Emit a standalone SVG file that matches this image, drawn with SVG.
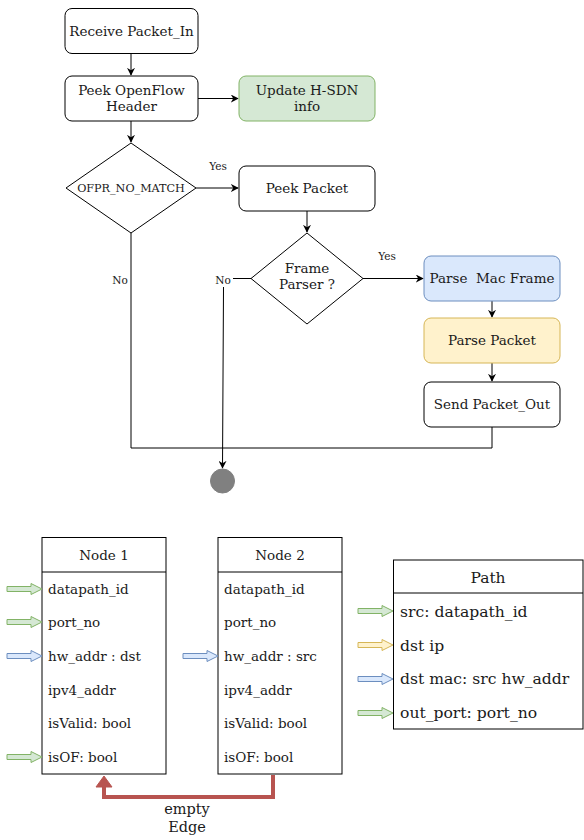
<svg xmlns="http://www.w3.org/2000/svg" width="584" height="840" viewBox="0 0 584 840">
<style>
text{font-family:"DejaVu Serif",serif;fill:#1a1a1a}
.box{fill:#fff;stroke:#000;stroke-width:1}
.t{font-size:13.5px;text-anchor:middle}
.lbl{font-size:10.5px;text-anchor:middle}
.edge{fill:none;stroke:#000;stroke-width:1}
.row{font-size:13.5px}
.prow{font-size:15.6px}
</style>
<defs>
<marker id="ah" viewBox="0 0 10 10" refX="9" refY="5" markerWidth="8" markerHeight="8" markerUnits="userSpaceOnUse" orient="auto">
<path d="M0,0 L10,5 L0,10 L3,5 Z" fill="#000"/>
</marker>
<path id="barrow" d="M-35,-2.5 H-11 V-5.5 L0,0 L-11,5.5 V2.5 H-35 Z"/>
</defs>

<g id="connectors">
<line class="edge" x1="131" y1="53" x2="131" y2="75" marker-end="url(#ah)"/>
<line class="edge" x1="198" y1="98.5" x2="238" y2="98.5" marker-end="url(#ah)"/>
<line class="edge" x1="131" y1="121" x2="131" y2="142" marker-end="url(#ah)"/>
<line class="edge" x1="196" y1="188" x2="238" y2="188" marker-end="url(#ah)"/>
<line class="edge" x1="307" y1="211" x2="307" y2="232" marker-end="url(#ah)"/>
<line class="edge" x1="363" y1="278.5" x2="423" y2="278.5" marker-end="url(#ah)"/>
<line class="edge" x1="492" y1="301" x2="492" y2="317" marker-end="url(#ah)"/>
<line class="edge" x1="492" y1="363" x2="492" y2="381" marker-end="url(#ah)"/>
<polyline class="edge" points="131,233 131,448 492,448 492,427"/>
<line class="edge" x1="251" y1="278.5" x2="233" y2="278.5"/>
<line class="edge" x1="223.5" y1="287" x2="222.5" y2="468" marker-end="url(#ah)"/>
<text class="lbl" x="218" y="170">Yes</text>
<text class="lbl" x="387" y="260">Yes</text>
<text class="lbl" x="120" y="284">No</text>
<text class="lbl" x="223" y="284">No</text>
<polyline points="273,775 273,797 104,797 104,785" fill="none" stroke="#b85450" stroke-width="4"/>
<path d="M96,787 L104,776 L112,787 Z" fill="#b85450" stroke="#b85450" stroke-width="1"/>
<text x="187" y="814" style="font-size:14.5px;text-anchor:middle">empty</text>
<text x="187" y="832" style="font-size:14.5px;text-anchor:middle">Edge</text>
</g>

<g id="receive">
<rect class="box" x="65" y="8.5" width="133" height="45" rx="7"/>
<text class="t" x="131.5" y="35.5">Receive Packet_In</text>
</g>
<g id="peek-header">
<rect class="box" x="65" y="76" width="133" height="45" rx="7"/>
<text class="t" x="131.5" y="95">Peek OpenFlow</text>
<text class="t" x="131.5" y="111">Header</text>
</g>
<g id="update">
<rect x="239" y="76" width="136" height="45" rx="7" fill="#d5e8d4" stroke="#82b366"/>
<text class="t" x="307" y="95">Update H-SDN</text>
<text class="t" x="307" y="111">info</text>
</g>
<g id="nomatch">
<path d="M131,143 L196,188 L131,233 L66,188 Z" fill="#fff" stroke="#000"/>
<text x="131" y="192" style="font-size:11.2px;text-anchor:middle">OFPR_NO_MATCH</text>
</g>
<g id="peek-packet">
<rect class="box" x="239" y="166" width="136" height="45" rx="7"/>
<text class="t" x="307" y="193">Peek Packet</text>
</g>
<g id="frame-parser">
<path d="M307,233 L363,278.5 L307,324 L251,278.5 Z" fill="#fff" stroke="#000"/>
<text class="t" x="307" y="273">Frame</text>
<text class="t" x="307" y="289">Parser ?</text>
</g>
<g id="parse-mac">
<rect x="424" y="256" width="136" height="45" rx="7" fill="#dae8fc" stroke="#6c8ebf"/>
<text class="t" x="492" y="283" xml:space="preserve">Parse  Mac Frame</text>
</g>
<g id="parse-packet">
<rect x="424" y="318" width="136" height="45" rx="7" fill="#fff2cc" stroke="#d6b656"/>
<text class="t" x="492" y="345">Parse Packet</text>
</g>
<g id="send">
<rect class="box" x="424" y="382" width="136" height="45" rx="7"/>
<text class="t" x="492" y="409">Send Packet_Out</text>
</g>
<g id="end">
<circle cx="222.5" cy="481" r="12" fill="#808080" stroke="#808080"/>
</g>

<g id="node1">
<rect class="box" x="42" y="537.5" width="124" height="236.5"/>
<line x1="42" y1="572" x2="166" y2="572" stroke="#000"/>
<text class="t" x="104" y="560">Node 1</text>
<text class="row" x="48" y="594">datapath_id</text>
<text class="row" x="48" y="627">port_no</text>
<text class="row" x="48" y="661">hw_addr : dst</text>
<text class="row" x="48" y="695">ipv4_addr</text>
<text class="row" x="48" y="728">isValid: bool</text>
<text class="row" x="48" y="762">isOF: bool</text>
</g>
<g id="node2">
<rect class="box" x="218" y="537.5" width="124" height="236.5"/>
<line x1="218" y1="572" x2="342" y2="572" stroke="#000"/>
<text class="t" x="280" y="560">Node 2</text>
<text class="row" x="224" y="594">datapath_id</text>
<text class="row" x="224" y="627">port_no</text>
<text class="row" x="224" y="661">hw_addr : src</text>
<text class="row" x="224" y="695">ipv4_addr</text>
<text class="row" x="224" y="728">isValid: bool</text>
<text class="row" x="224" y="762">isOF: bool</text>
</g>
<g id="path">
<rect class="box" x="393.5" y="560" width="189.5" height="169"/>
<line x1="393.5" y1="593" x2="583" y2="593" stroke="#000"/>
<text x="488" y="583" style="font-size:15.5px;text-anchor:middle">Path</text>
<text class="prow" x="400" y="617">src: datapath_id</text>
<text class="prow" x="400" y="651">dst ip</text>
<text class="prow" x="400" y="684">dst mac: src hw_addr</text>
<text class="prow" x="400" y="718">out_port: port_no</text>
</g>

<g id="field-arrows">
<use href="#barrow" x="42" y="589" fill="#d5e8d4" stroke="#82b366"/>
<use href="#barrow" x="42" y="622" fill="#d5e8d4" stroke="#82b366"/>
<use href="#barrow" x="42" y="656" fill="#dae8fc" stroke="#6c8ebf"/>
<use href="#barrow" x="42" y="757" fill="#d5e8d4" stroke="#82b366"/>
<use href="#barrow" x="218" y="656" fill="#dae8fc" stroke="#6c8ebf"/>
<use href="#barrow" x="393" y="611" fill="#d5e8d4" stroke="#82b366"/>
<use href="#barrow" x="393" y="645" fill="#fff2cc" stroke="#d6b656"/>
<use href="#barrow" x="393" y="679" fill="#dae8fc" stroke="#6c8ebf"/>
<use href="#barrow" x="393" y="713" fill="#d5e8d4" stroke="#82b366"/>
</g>
</svg>
